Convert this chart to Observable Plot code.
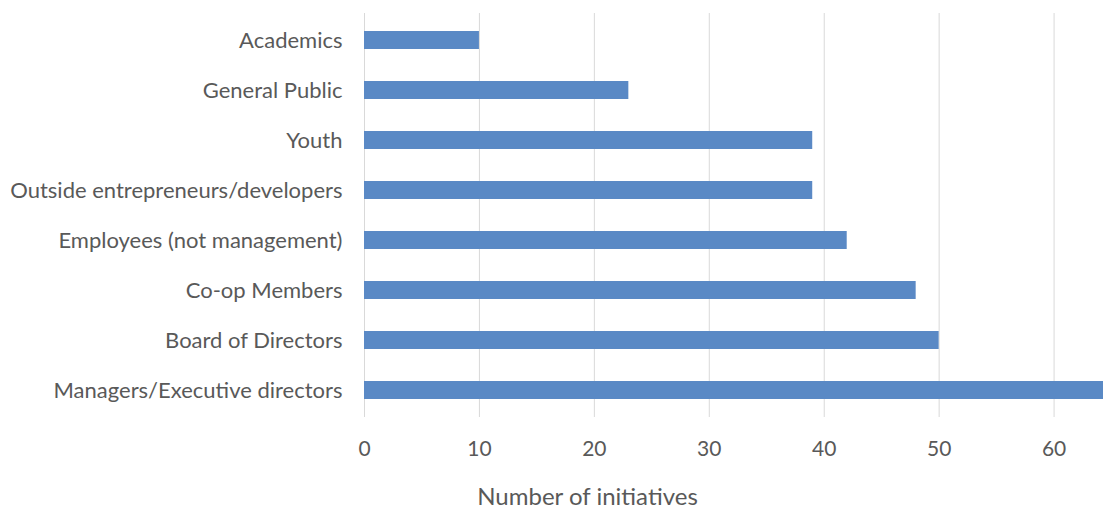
<!DOCTYPE html>
<html>
<head>
<meta charset="utf-8">
<script src="https://cdn.jsdelivr.net/npm/d3@7"></script>
<script src="https://cdn.jsdelivr.net/npm/@observablehq/plot@0.6"></script>
<style>
  html, body { margin: 0; padding: 0; background: #fff; }
  #chart svg { display: block; }
</style>
</head>
<body>
<div id="chart"></div>
<script>
const categories = [
  "Academics",
  "General Public",
  "Youth",
  "Outside entrepreneurs/developers",
  "Employees (not management)",
  "Co-op Members",
  "Board of Directors",
  "Managers/Executive directors"
];
const values = [10, 23, 39, 39, 42, 48, 50, 65];
const xTicks = [0, 10, 20, 30, 40, 50, 60];
const xTitle = "Number of initiatives";

const data = categories.map((c, i) => ({category: c, value: values[i]}));
const font = "Lato, 'Open Sans', sans-serif";
const textColor = "#595959";

const chart = Plot.plot({
  width: 1103,
  height: 514,
  marginTop: 13,
  marginBottom: 97,
  marginLeft: 364,
  marginRight: 0,
  style: {fontFamily: font, color: textColor, background: "#fff"},
  x: {domain: [0, 64.3], ticks: xTicks, label: null},
  y: {domain: categories, paddingInner: 0.65, paddingOuter: 0.325, label: null},
  marks: [
    Plot.gridX(xTicks, {stroke: "#d9d9d9", strokeOpacity: 1, strokeWidth: 1}),
    Plot.barX(data, {x: "value", y: "category", fill: "#5a89c5", clip: true}),
    Plot.axisX(xTicks, {tickSize: 0, tickPadding: 24, fontSize: 21, fill: textColor, label: null, tickFormat: d => String(d)}),
    Plot.axisY({tickSize: 0, tickPadding: 22, fontSize: 22, fill: textColor, label: null}),
    Plot.text([xTitle], {frameAnchor: "bottom-left", textAnchor: "middle", dx: 223, dy: 87, fontSize: 24, fill: textColor, text: d => d})
  ]
});
document.getElementById("chart").appendChild(chart);
</script>
</body>
</html>
